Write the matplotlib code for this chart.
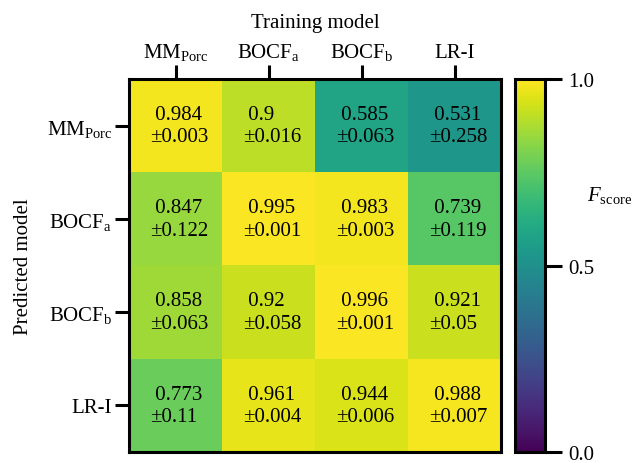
import numpy as np
import matplotlib
matplotlib.use("Agg")
import matplotlib.pyplot as plt

plt.rcParams['font.family'] = ['Liberation Serif', 'DejaVu Serif']
plt.rcParams['mathtext.fontset'] = 'custom'
plt.rcParams['mathtext.rm'] = 'Liberation Serif'
plt.rcParams['mathtext.it'] = 'Liberation Serif:italic'

# Data ---------------------
train_labels = [r"$\mathrm{MM}_\mathrm{Porc}$", r"$\mathrm{BOCF}_\mathrm{a}$",
                r"$\mathrm{BOCF}_\mathrm{b}$", "LR-I"]
pred_labels = [r"$\mathrm{MM}_\mathrm{Porc}$", r"$\mathrm{BOCF}_\mathrm{a}$",
               r"$\mathrm{BOCF}_\mathrm{b}$", "LR-I"]

mean_vals = [
    [0.984, 0.9, 0.585, 0.531],
    [0.847, 0.995, 0.983, 0.739],
    [0.858, 0.92, 0.996, 0.921],
    [0.773, 0.961, 0.944, 0.988],
]
std_vals = [
    [0.003, 0.016, 0.063, 0.258],
    [0.122, 0.001, 0.003, 0.119],
    [0.063, 0.058, 0.001, 0.05],
    [0.11, 0.004, 0.006, 0.007],
]
cbar_ticks = [0.0, 0.5, 1.0]

# Figure ---------------------
fs = 15
fig = plt.figure(figsize=(6.34, 4.64), dpi=100)
ax = fig.add_axes([129 / 634, 11 / 464, 372 / 634, 373 / 464])
cax = fig.add_axes([515 / 634, 11 / 464, 30 / 634, 373 / 464])

data = np.array(mean_vals)
im = ax.imshow(data, cmap='viridis', vmin=0, vmax=1, aspect='auto')

# Annotations
for i in range(data.shape[0]):
    for j in range(data.shape[1]):
        ax.text(j - 0.275, i, f" {mean_vals[i][j]}\n\u00b1{std_vals[i][j]}",
                ha='left', va='center', multialignment='left',
                fontsize=fs, color='black', linespacing=1.25)

# Axes styling
ax.xaxis.tick_top()
ax.xaxis.set_label_position('top')
ax.set_xticks(range(len(train_labels)))
ax.set_xticklabels(train_labels)
ax.set_yticks(range(len(pred_labels)))
ax.set_yticklabels(pred_labels)
ax.set_xlabel("Training model", fontsize=fs, labelpad=10)
ax.set_ylabel("Predicted model", fontsize=fs, labelpad=10)
ax.tick_params(axis='both', length=10, width=2.2, labelsize=fs, pad=2)
for sp in ax.spines.values():
    sp.set_linewidth(2.2)

# Colorbar
cbar = fig.colorbar(im, cax=cax, ticks=cbar_ticks)
cbar.outline.set_linewidth(2.2)
cax.tick_params(length=12, width=2.2, labelsize=fs, pad=5)
cax.set_yticklabels([f"{t:.1f}" for t in cbar_ticks])
cax.text(2.4, 0.69, r"$F_\mathrm{score}$", transform=cax.transAxes,
         ha='left', va='center', fontsize=fs)

fig.savefig("out.png", dpi=100)
